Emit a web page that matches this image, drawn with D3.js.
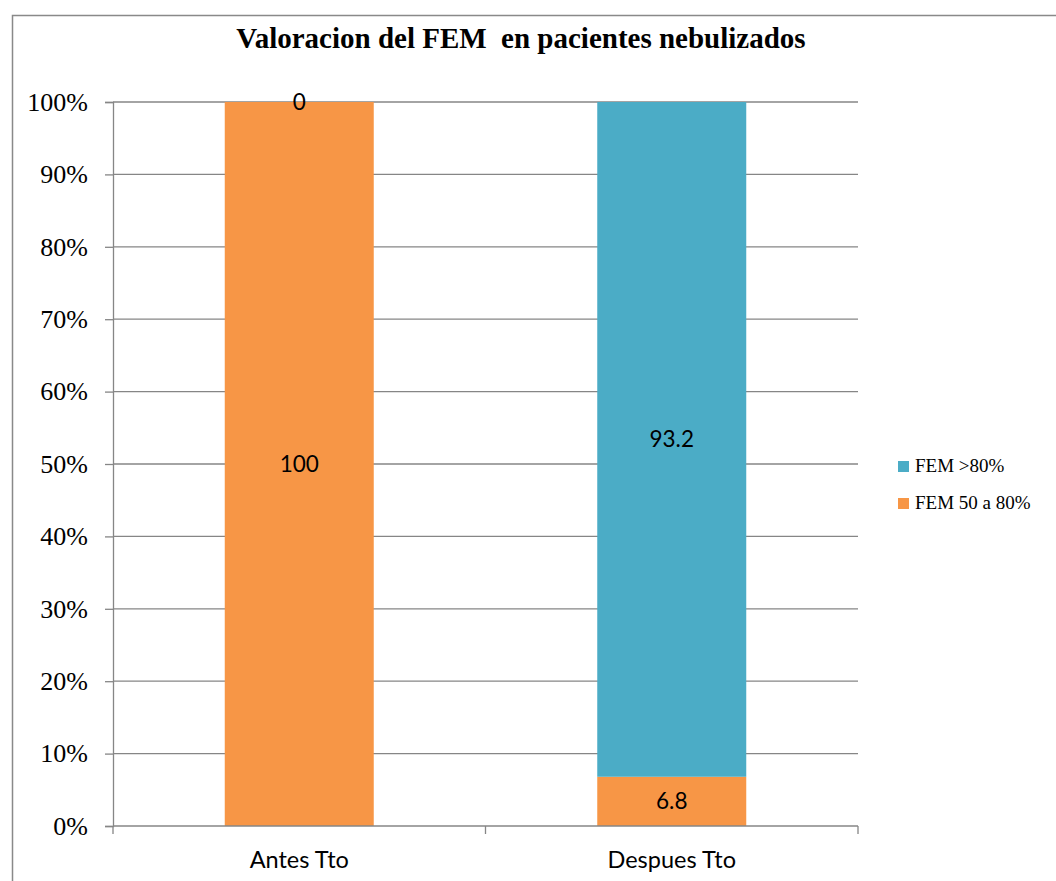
<!DOCTYPE html>
<html>
<head>
<meta charset="utf-8">
<script src="https://cdn.jsdelivr.net/npm/d3@7"></script>
<style>
  html, body { margin: 0; padding: 0; background: #fff; }
  svg { display: block; }
</style>
</head>
<body>
<svg id="chart" width="1056" height="881"></svg>
<script>
// Chart data
const title = "Valoracion del FEM  en pacientes nebulizados";
const categories = ["Antes Tto", "Despues Tto"];
const seriesNames = ["FEM 50 a 80%", "FEM >80%"];
const fem50a80 = [100, 6.8];
const femMas80 = [0, 93.2];
const yTicks = [0, 10, 20, 30, 40, 50, 60, 70, 80, 90, 100];
const colors = ["#F79646", "#4BACC6"];

const svg = d3.select("#chart");
const W = 1056, H = 881;
const plot = { left: 113, right: 858, top: 102, bottom: 826 };

// Outer chart border
svg.append("rect")
  .attr("x", 12.5).attr("y", 15.5)
  .attr("width", W).attr("height", H)
  .attr("fill", "#fff").attr("stroke", "#898989").attr("stroke-width", 1.5);

// Title
svg.append("text")
  .attr("x", 521).attr("y", 48)
  .attr("text-anchor", "middle")
  .attr("font-family", "'Liberation Serif', 'Times New Roman', serif")
  .attr("font-weight", "bold")
  .attr("font-size", 29)
  .style("white-space", "pre")
  .attr("xml:space", "preserve")
  .text(title);

const x = d3.scaleBand().domain(categories).range([plot.left, plot.right]).paddingInner(0.6).paddingOuter(0.3);
const y = d3.scaleLinear().domain([0, 100]).range([plot.bottom, plot.top]);

// Gridlines
svg.append("g").selectAll("line").data(yTicks.filter(d => d > 0)).join("line")
  .attr("x1", plot.left).attr("x2", plot.right)
  .attr("y1", d => y(d)).attr("y2", d => y(d))
  .attr("stroke", "#868686").attr("stroke-width", 1.3);

// Stacked data
const rows = categories.map((c, i) => ({ cat: c, [seriesNames[0]]: fem50a80[i], [seriesNames[1]]: femMas80[i] }));
const stack = d3.stack().keys(seriesNames)(rows);

const layers = svg.append("g").selectAll("g").data(stack).join("g")
  .attr("fill", (d, i) => colors[i]);
layers.selectAll("rect").data(d => d).join("rect")
  .attr("x", d => x(d.data.cat))
  .attr("width", x.bandwidth())
  .attr("y", d => y(d[1]))
  .attr("height", d => y(d[0]) - y(d[1]));

// Value labels centred on each segment
const labels = svg.append("g");
stack.forEach((layer, li) => {
  layer.forEach(d => {
    const v = d[1] - d[0];
    labels.append("text")
      .attr("x", x(d.data.cat) + x.bandwidth() / 2)
      .attr("y", y((d[0] + d[1]) / 2))
      .attr("dy", "0.36em")
      .attr("text-anchor", "middle")
      .attr("font-family", "Lato, 'Open Sans', sans-serif")
      .attr("font-size", 22.5)
      .attr("fill", "#000")
      .text(d3.format("~")(v));
  });
});

// Y axis
const yAxis = d3.axisLeft(y).tickValues(yTicks).tickFormat(d => d + "%").tickSize(8).tickPadding(17);
const gy = svg.append("g").attr("transform", `translate(${plot.left},0)`).call(yAxis);
gy.select(".domain").attr("stroke", "#868686").attr("stroke-width", 1.3);
gy.selectAll(".tick line").attr("stroke", "#868686").attr("stroke-width", 1.3);
gy.selectAll(".tick text")
  .attr("font-family", "'Liberation Serif', 'Times New Roman', serif")
  .attr("font-size", 26).attr("fill", "#000");

// X axis: ticks at category boundaries
const xEdges = [plot.left, (plot.left + plot.right) / 2, plot.right];
svg.append("line")
  .attr("x1", plot.left).attr("x2", plot.right)
  .attr("y1", plot.bottom).attr("y2", plot.bottom)
  .attr("stroke", "#868686").attr("stroke-width", 1.3);
svg.append("g").selectAll("line").data(xEdges).join("line")
  .attr("x1", d => d).attr("x2", d => d)
  .attr("y1", plot.bottom).attr("y2", plot.bottom + 8)
  .attr("stroke", "#868686").attr("stroke-width", 1.3);
svg.append("g").selectAll("text").data(categories).join("text")
  .attr("x", d => x(d) + x.bandwidth() / 2)
  .attr("y", 868)
  .attr("text-anchor", "middle")
  .attr("font-family", "Lato, 'Open Sans', sans-serif")
  .attr("font-size", 23.5)
  .attr("fill", "#000")
  .text(d => d);

// Legend (top entry is the upper series)
const legendItems = [seriesNames[1], seriesNames[0]];
const lg = svg.append("g").attr("transform", "translate(898,461)");
legendItems.forEach((name, i) => {
  const g = lg.append("g").attr("transform", `translate(0,${i * 37})`);
  g.append("rect").attr("width", 11).attr("height", 11)
    .attr("fill", colors[seriesNames.indexOf(name)]);
  g.append("text").attr("x", 17).attr("y", 11)
    .attr("font-family", "'Liberation Serif', 'Times New Roman', serif")
    .attr("font-size", 19).attr("fill", "#000")
    .text(name);
});
</script>
</body>
</html>
